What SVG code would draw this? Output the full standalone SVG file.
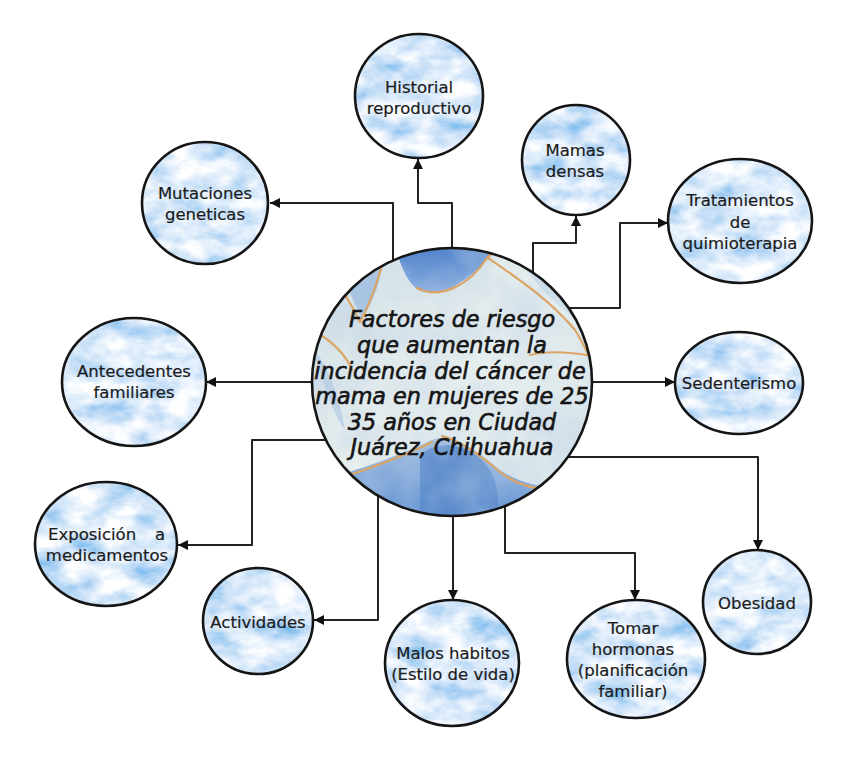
<svg xmlns="http://www.w3.org/2000/svg" width="848" height="761" viewBox="0 0 848 761">
<style>
.node ellipse{fill:url(#tex);stroke:#151515;stroke-width:2.6}
.node text{font-family:"DejaVu Sans",sans-serif;font-size:16.5px;fill:#1b1b1b;stroke:#1b1b1b;stroke-width:0.2;text-anchor:middle}
#connectors path{fill:none;stroke:#222;stroke-width:2;stroke-linejoin:round;marker-end:url(#arr)}
.ctext{font-family:"DejaVu Sans",sans-serif;font-style:italic;font-size:22.3px;fill:#151515;stroke:#151515;stroke-width:0.6;text-anchor:middle}
.gold{fill:none;stroke:#dba566;stroke-width:2.2;stroke-linecap:round}
</style>
<defs>
<marker id="arr" viewBox="0 0 10 10" refX="10" refY="5" markerUnits="userSpaceOnUse" markerWidth="11" markerHeight="10" orient="auto">
<path d="M0,0 L10,5 L0,10 z" fill="#111"/>
</marker>
<filter id="wc" filterUnits="userSpaceOnUse" x="0" y="0" width="848" height="761">
<feTurbulence type="fractalNoise" baseFrequency="0.03 0.05" numOctaves="4" seed="7" result="n"/>
<feColorMatrix in="n" type="matrix" values="1.3 0 0 0 0.05  0.8 0 0 0 0.42  0.25 0 0 0 0.83  0 0 0 0 1"/>
</filter>
<pattern id="tex" patternUnits="userSpaceOnUse" x="0" y="0" width="848" height="761">
<rect width="848" height="761" fill="#b3d1f5" filter="url(#wc)"/>
</pattern>
<filter id="mw" filterUnits="userSpaceOnUse" x="300" y="240" width="310" height="290">
<feTurbulence type="fractalNoise" baseFrequency="0.02" numOctaves="3" seed="2" result="n"/>
<feColorMatrix in="n" type="matrix" values="0 0 0 0 0.5  0 0 0 0 0.62  0 0 0 0 0.8  1.0 0 0 0 -0.38"/>
</filter>
<linearGradient id="mbase" x1="0" y1="0" x2="1" y2="1">
<stop offset="0" stop-color="#d2e0e6"/>
<stop offset="0.5" stop-color="#e6eeee"/>
<stop offset="1" stop-color="#d6e4ea"/>
</linearGradient>
<linearGradient id="mtop" x1="0" y1="0" x2="0" y2="1">
<stop offset="0" stop-color="#4f83cc"/>
<stop offset="1" stop-color="#86abde"/>
</linearGradient>
<linearGradient id="mbot" x1="0" y1="0" x2="0" y2="1">
<stop offset="0" stop-color="#a3bfe0"/>
<stop offset="1" stop-color="#5f91d3"/>
</linearGradient>
<clipPath id="cc"><ellipse cx="452" cy="382" rx="140" ry="134"/></clipPath>
</defs>

<g id="connectors">
<path d="M393,261 V203 H270"/>
<path d="M452,248 V203 H418 V159"/>
<path d="M533,273 V243 H576 V216"/>
<path d="M569,308 H620 V223 H668"/>
<path d="M312,382 H206"/>
<path d="M326,440 H252 V545 H178"/>
<path d="M592,382 H675"/>
<path d="M378,496 V620 H314"/>
<path d="M453,516 V600"/>
<path d="M505,506 V553 H635 V600"/>
<path d="M568,457 H758 V550"/>
</g>

<g id="center">
<g clip-path="url(#cc)">
<rect x="310" y="246" width="286" height="272" fill="url(#mbase)"/>
<path d="M395,246 C400,262 405,280 418,290 C440,300 470,280 488,258 L500,246 Z" fill="url(#mtop)"/>
<path d="M335,262 C345,280 352,300 362,318 C375,300 380,280 383,262 Z" fill="#9bbbe0" opacity="0.8"/>
<path d="M520,262 C540,290 570,320 596,330 L596,250 Z" fill="#c9dbe8" opacity="0.8"/>
<path d="M315,360 C325,380 330,410 345,430 C340,400 332,375 315,350 Z" fill="#a9c4e2" opacity="0.6"/>
<path d="M320,480 C360,470 400,455 432,440 C450,432 470,445 500,470 C530,490 560,490 596,480 L596,520 L310,520 Z" fill="url(#mbot)"/>
<path d="M420,455 C435,440 470,440 490,470 C500,490 500,510 495,520 L420,520 Z" fill="#4f82c8" opacity="0.7"/>
<rect x="310" y="246" width="286" height="272" fill="#000" filter="url(#mw)"/>
<path class="gold" d="M417,288 C440,300 470,285 487,258 C495,250 505,248 515,250"/>
<path class="gold" d="M383,262 C378,280 372,300 360,322"/>
<path class="gold" d="M330,268 C340,290 350,300 360,322"/>
<path class="gold" d="M488,258 C520,280 550,300 575,330 C585,345 590,360 596,372"/>
<path class="gold" d="M530,355 C550,350 570,352 592,356"/>
<path class="gold" d="M328,482 C360,472 400,458 432,442"/>
<path class="gold" d="M442,436 C460,440 480,455 500,472 C520,488 545,492 572,488"/>
<path class="gold" d="M313,330 C330,340 345,352 352,370" stroke-width="1.2"/>
</g>
<ellipse cx="452" cy="382" rx="140" ry="134" fill="none" stroke="#151515" stroke-width="2.6"/>
<text class="ctext" x="452" y="327">Factores de riesgo</text>
<text class="ctext" x="452" y="353">que aumentan la</text>
<text class="ctext" x="450" y="379">incidencia del cáncer de</text>
<text class="ctext" x="452" y="404">mama en mujeres de 25</text>
<text class="ctext" x="452" y="430">35 años en Ciudad</text>
<text class="ctext" x="452" y="455">Juárez, Chihuahua</text>
</g>

<g id="n-historial" class="node">
<ellipse cx="419" cy="96" rx="64" ry="62"/>
<text x="419" y="93">Historial</text>
<text x="419" y="114">reproductivo</text>
</g>
<g id="n-mutaciones" class="node">
<ellipse cx="205" cy="203" rx="63" ry="61"/>
<text x="205" y="199">Mutaciones</text>
<text x="205" y="220">geneticas</text>
</g>
<g id="n-mamas" class="node">
<ellipse cx="576" cy="160" rx="54" ry="55"/>
<text x="575" y="156">Mamas</text>
<text x="575" y="177">densas</text>
</g>
<g id="n-tratamientos" class="node">
<ellipse cx="740" cy="221" rx="72" ry="62"/>
<text x="740" y="206">Tratamientos</text>
<text x="740" y="228">de</text>
<text x="740" y="249">quimioterapia</text>
</g>
<g id="n-antecedentes" class="node">
<ellipse cx="134" cy="382" rx="72" ry="64"/>
<text x="134" y="377">Antecedentes</text>
<text x="134" y="398">familiares</text>
</g>
<g id="n-exposicion" class="node">
<ellipse cx="106" cy="544" rx="71" ry="62"/>
<text x="48" y="540" style="text-anchor:start">Exposición</text>
<text x="165" y="540" style="text-anchor:end">a</text>
<text x="107" y="561">medicamentos</text>
</g>
<g id="n-sedenterismo" class="node">
<ellipse cx="739" cy="383" rx="64" ry="51"/>
<text x="739" y="389">Sedenterismo</text>
</g>
<g id="n-actividades" class="node">
<ellipse cx="258" cy="621" rx="55" ry="53"/>
<text x="258" y="628">Actividades</text>
</g>
<g id="n-malos" class="node">
<ellipse cx="452" cy="663" rx="67" ry="63"/>
<text x="453" y="659">Malos habitos</text>
<text x="453" y="680">(Estilo de vida)</text>
</g>
<g id="n-tomar" class="node">
<ellipse cx="636" cy="659" rx="69" ry="59"/>
<text x="633" y="634">Tomar</text>
<text x="633" y="655">hormonas</text>
<text x="633" y="676">(planificación</text>
<text x="633" y="697">familiar)</text>
</g>
<g id="n-obesidad" class="node">
<ellipse cx="757" cy="602" rx="54" ry="52"/>
<text x="757" y="609">Obesidad</text>
</g>
</svg>
